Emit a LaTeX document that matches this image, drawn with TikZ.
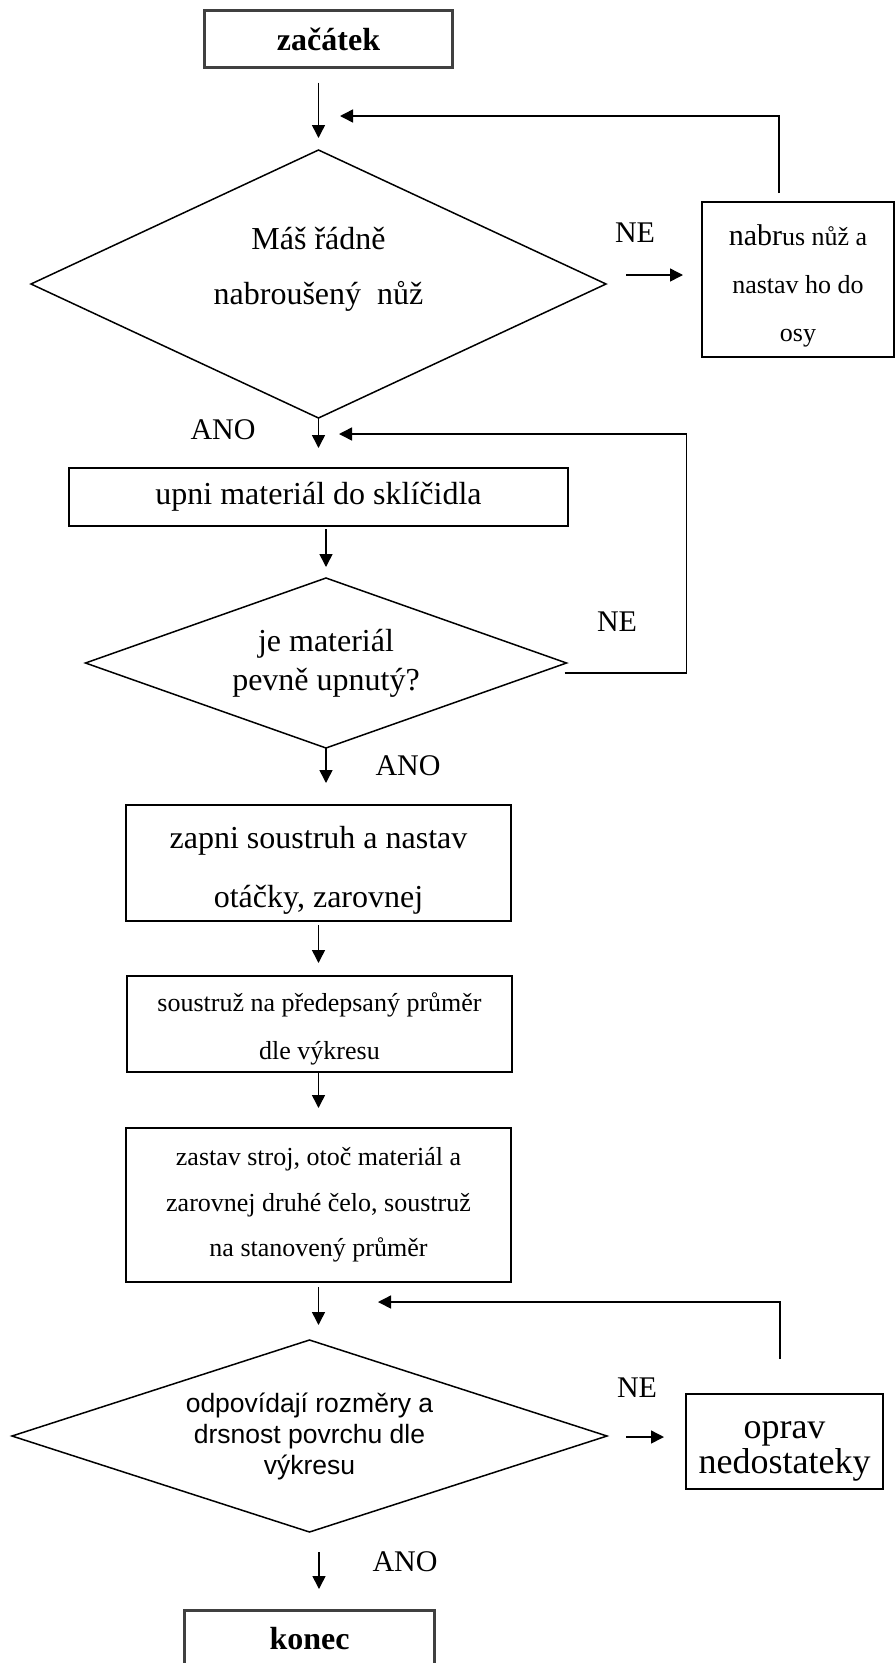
\documentclass[tikz,border=0pt]{standalone}
\usepackage{fontspec}
\setmainfont{Liberation Serif}
\newfontfamily\arialfont{Liberation Sans}
\usepackage{tikz}
\usetikzlibrary{positioning,arrows.meta,calc,shapes.geometric}

\begin{document}
\begin{tikzpicture}[x=1pt, y=-1pt,
  box/.style={draw, line width=1.5pt, rectangle, inner sep=0pt, outer sep=0pt, align=center},
  term/.style={box, draw=black!75, line width=3pt, font=\fontsize{32}{38}\selectfont\bfseries},
  dec/.style={draw, line width=1.5pt, diamond, inner sep=0pt, outer sep=0pt, align=center},
  lbl/.style={inner sep=0pt, font=\fontsize{30}{36}\selectfont},
  arr/.style={line width=1.5pt, -{Triangle[length=13pt, width=13pt]}}]
\useasboundingbox (0,0) rectangle (895,1663);
% steps and decisions
\node[term, minimum width=248, minimum height=57] (start) at (328.5,39) {začátek};
\node[dec, shape aspect=2.15, minimum width=575, minimum height=268, font=\fontsize{32}{55}\selectfont, text depth=36pt] (d1) at (318.5,284) {Máš řádně\\nabroušený~~nůž};
\node[box, minimum width=192, minimum height=155, font=\fontsize{26}{48}\selectfont, text height=130pt] (fix1) at (798,279.5)
  {{\fontsize{30}{48}\selectfont nabr}us nůž a\\nastav ho do\\osy};
\node[box, minimum width=499, minimum height=58, font=\fontsize{32}{38}\selectfont] (clamp) at (318.5,497) {upni materiál do sklíčidla};
\node[dec, shape aspect=2.83, minimum width=481, minimum height=170, font=\fontsize{32}{39}\selectfont] (d2) at (326,663) {je materiál\\pevně upnutý?};
\node[box, minimum width=385, minimum height=116, font=\fontsize{32}{59}\selectfont, text height=95pt] (lathe) at (318.5,863) {zapni soustruh a nastav\\otáčky, zarovnej};
\node[box, minimum width=385, minimum height=96, font=\fontsize{26}{48}\selectfont, text height=76pt] (turn) at (319.5,1024) {soustruž na předepsaný průměr\\dle výkresu};
\node[box, minimum width=385, minimum height=154, font=\fontsize{26}{45.5}\selectfont] (face) at (318.5,1205)
  {zastav stroj, otoč materiál a\\zarovnej druhé čelo, soustruž\\na stanovený průměr};
\node[dec, shape aspect=3.1, minimum width=595, minimum height=192, font=\arialfont\fontsize{26.5}{31}\selectfont] (d3) at (309.5,1436)
  {odpovídají rozměry a\\drsnost povrchu dle\\výkresu};
\node[box, minimum width=197, minimum height=95, font=\fontsize{36}{35}\selectfont, text height=71pt] (fix2) at (784.5,1441.5) {oprav\\nedostateky};
\node[term, minimum width=250, minimum height=57] (stop) at (309.5,1639) {konec};
% answers
\node[lbl] (ne1) at (635,233) {NE};
\node[lbl] (ano1) at (223,430) {ANO};
\node[lbl] (ne2) at (617,622) {NE};
\node[lbl] (ano2) at (408,766) {ANO};
\node[lbl] (ne3) at (637,1388) {NE};
\node[lbl] (ano3) at (405,1562) {ANO};
% main flow
\draw[arr] ($(start.south -| d1.north)+(0,15)$) -- ($(d1.north)+(0,-12)$);
\draw[arr] (d1.south) -- ($(clamp.north)+(0,-20)$);
\draw[arr] ($(clamp.south -| d2.north)+(0,3)$) -- ($(d2.north)+(0,-11)$);
\draw[arr] (d2.south) -- ($(lathe.north -| d2.south)+(0,-22)$);
\draw[arr] ($(lathe.south)+(0,4)$) -- ($(turn.north -| lathe.south)+(0,-13)$);
\draw[arr] ($(turn.south -| lathe.south)+(0,1)$) -- ($(face.north)+(0,-20)$);
\draw[arr] ($(face.south)+(0,5)$) -- ($(d3.north -| face.south)+(0,-15)$);
\draw[arr] ($(d3.south)+(9.5,20)$) -- ($(stop.north)+(9.5,-21.5)$);
% NE branches
\draw[arr] ($(d1.east)+(20,-9)$) -- ($(fix1.west)+(-19,-4.5)$);
\draw[arr] ($(d3.east)+(19,1)$) -- ($(fix2.west)+(-22,-4.5)$);
% loops back
\draw[arr] ($(fix1.north)+(-19,-9)$) |- ($(d1.north)+(21.5,-34)$);
\draw[arr] ($(d2.east)+(-2,10)$) -- ++(122,0) |- ($(d1.south)+(20.5,16)$);
\draw[arr] ($(fix2.north)+(-4.5,-35)$) |- ($(d3.north)+(68.5,-38)$);
\end{tikzpicture}
\end{document}
